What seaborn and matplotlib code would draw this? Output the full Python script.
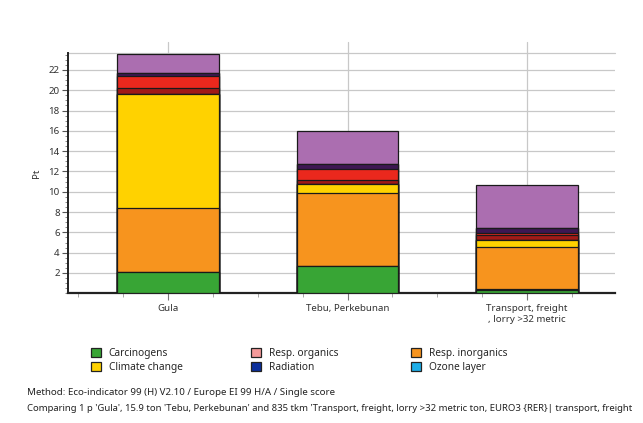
import matplotlib
matplotlib.use("Agg")
import matplotlib.pyplot as plt
from matplotlib.patches import Patch
from matplotlib.ticker import MultipleLocator
import numpy as np
import pandas as pd
import seaborn as sns

# Single-score results (Pt) per impact category
categories = ["Gula", "Tebu, Perkebunan", "Transport, freight\n, lorry >32 metric"]
carcinogens = [2.07, 2.71, 0.37]
resp_organics = [0.01, 0.01, 0.01]
resp_inorganics = [6.31, 7.17, 4.14]
climate_change = [11.23, 0.86, 0.69]
radiation = [0.02, 0.02, 0.05]
ozone_layer = [0.01, 0.01, 0.01]
ecotoxicity = [0.59, 0.42, 0.45]
acidification = [1.14, 1.05, 0.23]
land_use = [0.30, 0.45, 0.45]
minerals = [0.03, 0.04, 0.02]
fossil_fuels = [1.83, 3.21, 4.24]

series = [
    ("Carcinogens", carcinogens, "#38a535"),
    ("Resp. organics", resp_organics, "#f59a9a"),
    ("Resp. inorganics", resp_inorganics, "#f7941e"),
    ("Climate change", climate_change, "#ffd200"),
    ("Radiation", radiation, "#0b2f9c"),
    ("Ozone layer", ozone_layer, "#1eaee8"),
    ("Ecotoxicity", ecotoxicity, "#a11a17"),
    ("Acidification/ Eutrophication", acidification, "#ea281d"),
    ("Land use", land_use, "#3d1752"),
    ("Minerals", minerals, "#1c1c1c"),
    ("Fossil fuels", fossil_fuels, "#ab6eb0"),
]
legend_columns = [["Carcinogens", "Climate change"],
                  ["Resp. organics", "Radiation"],
                  ["Resp. inorganics", "Ozone layer"]]

sns.set_theme(style="white")
plt.rcParams["font.family"] = ["Noto Sans", "DejaVu Sans"]

fig = plt.figure(figsize=(6.43, 4.23), dpi=100)
ax = fig.add_axes([68 / 643, 1 - 293.3 / 423, (615 - 68) / 643, (293.3 - 52.7) / 423])

# Stack by drawing cumulative totals from the top layer downwards
values = np.array([s[1] for s in series])
cum = np.cumsum(values, axis=0)
for i in range(len(series) - 1, -1, -1):
    df = pd.DataFrame({"cat": categories, "val": cum[i]})
    sns.barplot(data=df, x="cat", y="val", color=series[i][2], saturation=1,
                width=0.563, edgecolor="#1a1a1a", linewidth=0.9, ax=ax, zorder=3)

ax.set_xlim(-0.557, 2.49)
ax.set_ylim(0, 23.7)
ax.yaxis.set_major_locator(MultipleLocator(2))
ax.yaxis.set_minor_locator(MultipleLocator(0.5))
ax.set_yticks(np.arange(2, 23, 2))
ax.xaxis.set_minor_locator(MultipleLocator(0.25))

ax.grid(axis="y", which="major", color="#c8c8c8", linewidth=0.9, zorder=0)
for xc in range(len(categories)):
    ax.axvline(xc, ymin=0, ymax=1.045, color="#c8c8c8", linewidth=0.9,
               zorder=0, clip_on=False)
ax.set_axisbelow(True)

for side in ["top", "right"]:
    ax.spines[side].set_visible(False)
ax.spines["left"].set_color("#222222")
ax.spines["left"].set_linewidth(1.4)
ax.spines["bottom"].set_color("#222222")
ax.spines["bottom"].set_linewidth(1.6)
ax.axhline(23.7, color="#c8c8c8", linewidth=0.9, zorder=0, clip_on=False)

ax.tick_params(axis="y", which="major", left=True, length=4, width=0.8,
               color="#555555", labelsize=7, labelcolor="#333333", pad=2)
ax.tick_params(axis="y", which="minor", left=True, length=2, width=0.6,
               color="#777777")
ax.tick_params(axis="x", which="major", bottom=True, length=5, width=0.8,
               color="#777777", labelsize=7, labelcolor="#333333", pad=3)
ax.tick_params(axis="x", which="minor", bottom=True, length=3, width=0.6,
               color="#999999")
ax.set_xlabel("")
ax.set_ylabel("Pt", fontsize=7, color="#333333", labelpad=5)

# Legend: first six impact categories, three fixed-width columns
colors = {name: c for name, _, c in series}
for col, x_left in zip(legend_columns, [91, 251, 411]):
    handles = [Patch(facecolor=colors[n], edgecolor="#222222", linewidth=0.9, label=n)
               for n in col]
    fig.legend(handles=handles, loc="upper left",
               bbox_to_anchor=(x_left / 643, 1 - 347.5 / 423), ncol=1, frameon=False,
               fontsize=7.3, handlelength=1.0, handleheight=1.0, handletextpad=0.75,
               labelspacing=0.35, borderaxespad=0, borderpad=0)

fig.text(27 / 643, 1 - 392 / 423, "Method: Eco-indicator 99 (H) V2.10 / Europe EI 99 H/A / Single score",
         fontsize=7, color="#222222", va="center")
fig.text(27 / 643, 1 - 408 / 423,
         "Comparing 1 p 'Gula', 15.9 ton 'Tebu, Perkebunan' and 835 tkm 'Transport, freight, lorry >32 metric ton, EURO3 {RER}| transport, freight",
         fontsize=6.85, color="#222222", va="center")

fig.savefig("out.png", dpi=100, facecolor="white")
